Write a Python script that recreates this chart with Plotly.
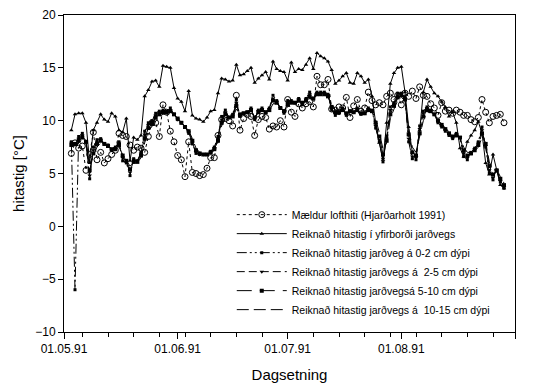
import pandas as pd
import plotly.graph_objects as go

# Daily dates (3 May - 29 Aug 1991)
dates = pd.date_range("1991-05-03", "1991-08-29", freq="D")

maeldur = [
    6.9, 7.9, 7.4, 7.6, 5.3, 6.8, 8.9, 6.3, 7.0, 6.0,
    6.4, 6.8, 7.2, 8.8, 8.6, 8.5, 7.7, 7.2, 7.5, 7.4,
    7.0, 8.5, 9.8, 9.8, 8.5, 11.5, 10.8, 9.0, 8.0, 6.7,
    6.3, 4.7, 8.0, 5.1, 5.0, 4.8, 4.9, 5.5, 6.5, 6.5,
    8.6, 10.1, 10.2, 10.0, 9.5, 12.4, 9.1, 10.2, 10.6, 10.4,
    8.6, 10.1, 10.4, 10.3, 9.2, 9.5, 9.4, 10.0, 9.4, 12.0,
    10.8, 10.4, 11.6, 11.2, 11.6, 11.8, 11.3, 14.2, 13.4, 13.4,
    13.9, 11.1, 11.0, 11.3, 11.2, 12.2, 10.3, 11.4, 12.0, 10.9,
    11.2, 12.7, 11.9, 11.5, 11.7, 11.5, 12.3, 12.6, 12.0, 12.4,
    11.5, 12.6, 12.3, 12.8, 12.1, 13.2, 12.4, 12.3, 11.6, 11.2,
    10.5, 11.7, 10.9, 11.0, 10.7, 11.0, 10.8, 10.5, 10.5, 10.1,
    9.9, 10.3, 12.0, 10.8, 9.8, 10.4, 10.5, 10.6, 9.8,
]

yfirbord = [
    9.1, 10.6, 10.7, 10.7, 9.8, 6.0, 9.1, 9.8, 10.6, 10.1,
    9.9, 10.7, 10.4, 9.1, 8.9, 10.2, 6.2, 8.4, 8.2, 8.6,
    12.3, 12.9, 13.7, 13.8, 13.2, 15.2, 15.1, 15.0, 13.1, 12.1,
    11.8, 10.9, 12.8, 10.5, 10.2, 10.1, 9.9, 10.3, 10.9, 11.0,
    12.6, 14.0, 13.9, 13.7, 13.8, 15.3, 14.3, 14.4, 14.7, 15.0,
    13.6, 14.0, 14.3, 14.6, 13.9, 15.6, 14.9, 14.7, 14.6, 13.8,
    15.5, 14.6, 14.9, 14.8, 15.3, 15.9, 14.9, 16.4, 16.1, 15.9,
    15.6, 14.8, 13.5, 13.8, 14.2, 14.5, 13.6, 13.5, 14.5, 14.2,
    13.6, 13.9, 12.3, 9.8, 7.9, 6.3, 9.8, 13.5, 14.5, 15.0,
    15.1, 12.7, 9.4, 7.0, 6.7, 9.1, 12.7, 13.9, 13.2, 12.6,
    12.3, 11.8, 11.3, 10.4, 10.8, 9.8, 7.4, 6.6, 8.0, 8.6,
    9.1, 9.9, 8.8, 6.0, 4.9, 6.8, 5.3, 3.9, 3.6,
]

jardv_0_2 = [
    8.0, -6.0, 8.5, 8.8, 8.0, 4.5, 7.5, 8.2, 8.3, 7.8,
    7.7, 7.2, 7.5, 8.0, 6.2, 6.0, 4.8, 6.4, 6.2, 7.0,
    9.0, 9.8, 10.0, 10.7, 10.9, 11.0, 10.9, 11.2, 10.6, 10.1,
    9.8, 9.4, 8.8, 7.8, 6.9, 6.8, 6.8, 6.8, 7.1, 7.5,
    8.5, 10.4, 11.0, 10.3, 10.6, 12.0, 10.4, 10.7, 10.8, 11.2,
    10.1, 11.0, 11.2, 10.8, 11.2, 12.4, 11.9, 11.2, 10.7, 11.9,
    11.9, 11.7, 12.1, 11.5, 12.1, 12.7, 12.1, 12.7, 12.7, 12.7,
    12.5, 11.0, 10.5, 10.7, 11.2, 10.5, 10.9, 10.8, 11.2, 10.6,
    10.7, 11.2, 11.0, 9.3, 8.0, 6.1, 8.5, 11.3, 11.7, 12.6,
    12.6, 12.2, 8.0, 6.4, 6.3, 9.5, 10.9, 11.3, 11.0, 10.6,
    9.8, 9.4, 9.0, 8.6, 8.3, 8.8, 8.4, 6.6, 6.3, 7.0,
    7.4, 8.0, 9.4, 7.5, 5.0, 4.4, 5.3, 4.2, 3.6,
]

jardv_2_5 = [
    7.9, 7.8, 8.3, 8.6, 8.0, 4.8, 7.2, 8.0, 8.2, 7.8,
    7.6, 7.2, 7.4, 7.9, 6.5, 6.1, 5.1, 6.3, 6.2, 6.9,
    8.7, 9.6, 9.9, 10.5, 10.8, 10.9, 10.8, 11.0, 10.6, 10.1,
    9.8, 9.4, 8.9, 7.9, 7.0, 6.8, 6.8, 6.8, 7.0, 7.4,
    8.3, 10.1, 10.8, 10.3, 10.5, 11.7, 10.5, 10.7, 10.8, 11.1,
    10.2, 10.9, 11.1, 10.8, 11.1, 12.1, 11.8, 11.2, 10.8, 11.7,
    11.8, 11.7, 12.0, 11.6, 12.0, 12.5, 12.1, 12.6, 12.6, 12.6,
    12.4, 11.1, 10.6, 10.7, 11.1, 10.6, 10.9, 10.8, 11.1, 10.7,
    10.7, 11.1, 11.0, 9.5, 8.2, 6.4, 8.3, 11.0, 11.6, 12.4,
    12.5, 12.1, 8.3, 6.6, 6.5, 9.2, 10.7, 11.2, 11.0, 10.6,
    9.9, 9.5, 9.1, 8.7, 8.4, 8.7, 8.4, 6.9, 6.5, 6.9,
    7.3, 7.9, 9.1, 7.6, 5.3, 4.6, 5.3, 4.3, 3.7,
]

jardv_5_10 = [
    7.7, 7.8, 8.1, 8.4, 8.0, 5.3, 6.9, 7.8, 8.1, 7.8,
    7.6, 7.3, 7.3, 7.7, 6.7, 6.2, 5.4, 6.1, 6.1, 6.7,
    8.3, 9.3, 9.7, 10.3, 10.6, 10.8, 10.8, 10.9, 10.6, 10.2,
    9.8, 9.4, 9.0, 8.1, 7.2, 6.9, 6.8, 6.8, 7.0, 7.3,
    8.1, 9.8, 10.6, 10.3, 10.4, 11.4, 10.6, 10.7, 10.8, 11.0,
    10.3, 10.8, 11.0, 10.8, 11.0, 11.9, 11.7, 11.2, 10.9, 11.5,
    11.7, 11.7, 11.9, 11.7, 11.9, 12.3, 12.1, 12.5, 12.5, 12.5,
    12.3, 11.3, 10.8, 10.8, 11.0, 10.7, 10.9, 10.8, 11.0, 10.7,
    10.7, 11.0, 10.9, 9.8, 8.5, 6.8, 8.1, 10.6, 11.4, 12.2,
    12.4, 12.0, 8.7, 7.0, 6.7, 8.8, 10.4, 11.0, 10.9, 10.6,
    10.0, 9.6, 9.2, 8.8, 8.5, 8.6, 8.4, 7.2, 6.7, 6.9,
    7.2, 7.7, 8.8, 7.8, 5.7, 4.9, 5.3, 4.5, 3.9,
]

jardv_10_15 = [
    7.5, 7.7, 7.9, 8.2, 8.0, 5.9, 6.7, 7.5, 7.9, 7.8,
    7.6, 7.3, 7.2, 7.5, 6.8, 6.3, 5.7, 6.0, 6.0, 6.5,
    7.9, 9.0, 9.5, 10.0, 10.4, 10.6, 10.7, 10.8, 10.6, 10.2,
    9.8, 9.4, 9.1, 8.3, 7.4, 7.0, 6.9, 6.8, 6.9, 7.2,
    7.9, 9.5, 10.3, 10.3, 10.3, 11.1, 10.6, 10.7, 10.7, 10.9,
    10.4, 10.7, 10.9, 10.8, 10.9, 11.6, 11.6, 11.2, 11.0, 11.3,
    11.6, 11.6, 11.8, 11.7, 11.8, 12.1, 12.1, 12.4, 12.4, 12.4,
    12.3, 11.5, 11.0, 10.9, 11.0, 10.8, 10.9, 10.8, 10.9, 10.7,
    10.7, 10.9, 10.9, 10.1, 8.9, 7.3, 7.9, 10.2, 11.1, 11.9,
    12.2, 11.9, 9.2, 7.5, 7.0, 8.4, 10.0, 10.8, 10.8, 10.6,
    10.1, 9.7, 9.3, 8.9, 8.6, 8.6, 8.4, 7.5, 7.0, 7.0,
    7.1, 7.5, 8.4, 7.9, 6.1, 5.3, 5.4, 4.7, 4.1,
]

names = [
    "Mældur lofthiti (Hjarðarholt 1991)",
    "Reiknað hitastig í yfirborði jarðvegs",
    "Reiknað hitastig jarðveg á 0-2 cm dýpi",
    "Reiknað hitastig jarðvegs á\u00a0 2-5 cm dýpi",
    "Reiknað hitastig jarðvegsá 5-10 cm dýpi",
    "Reiknað hitastig jarðvegs á\u00a0 10-15 cm dýpi",
]

FONT = "Liberation Sans, Arial, sans-serif"
fig = go.Figure()

styles = [
    (maeldur, "dot", dict(symbol="circle-open", size=6, color="black", line=dict(width=1, color="black")), "lines+markers"),
    (yfirbord, "solid", dict(symbol="triangle-up", size=4, color="black"), "lines+markers"),
    (jardv_0_2, "10px,3px,2px,3px,2px,3px", dict(symbol="square", size=3, color="black"), "lines+markers"),
    (jardv_2_5, "8px,4px", dict(symbol="triangle-down", size=4, color="black"), "lines+markers"),
    (jardv_5_10, "15px,8px", dict(symbol="square", size=4, color="black"), "lines+markers"),
    (jardv_10_15, "12px,5px", None, "lines"),
]

for (vals, dash, marker, mode), nm in zip(styles, names):
    kw = dict(x=dates, y=vals, name=nm, mode=mode,
              line=dict(color="black", width=1, dash=dash))
    if marker is not None:
        kw["marker"] = marker
    fig.add_trace(go.Scatter(**kw))

fig.update_layout(
    width=534, height=387,
    margin=dict(l=64, r=19, t=15, b=55),
    paper_bgcolor="white", plot_bgcolor="white",
    font=dict(family=FONT, size=12, color="black"),
    showlegend=True,
    legend=dict(
        x=0.372, y=0.416, xanchor="left", yanchor="top",
        font=dict(family=FONT, size=10.5, color="black"),
        bgcolor="rgba(255,255,255,0)", borderwidth=0,
        itemwidth=50, tracegroupgap=0,
    ),
    xaxis=dict(
        range=["1991-05-01", "1991-09-01"],
        tick0="1991-05-01", dtick="M1", tickformat="%d.%m.%y",
        ticks="outside", ticklen=6, tickcolor="black", tickwidth=1,
        minor=dict(tick0="1991-05-06", dtick=7 * 86400000, ticks="outside",
                   ticklen=4, tickcolor="black", showgrid=False),
        showgrid=False, zeroline=False, automargin=False,
        showline=True, linecolor="black", linewidth=1, mirror=True,
        tickfont=dict(family=FONT, size=12),
        title=dict(text="Dagsetning", font=dict(family=FONT, size=15), standoff=14),
    ),
    yaxis=dict(
        range=[-10, 20], tick0=-10, dtick=5,
        ticks="outside", ticklen=5, tickcolor="black", tickwidth=1,
        showgrid=False, zeroline=False, automargin=False,
        showline=True, linecolor="black", linewidth=1, mirror=True,
        tickfont=dict(family=FONT, size=12),
        title=dict(text="hitastig [°C]", font=dict(family=FONT, size=15), standoff=6),
    ),
)

fig.write_html("out.html")
